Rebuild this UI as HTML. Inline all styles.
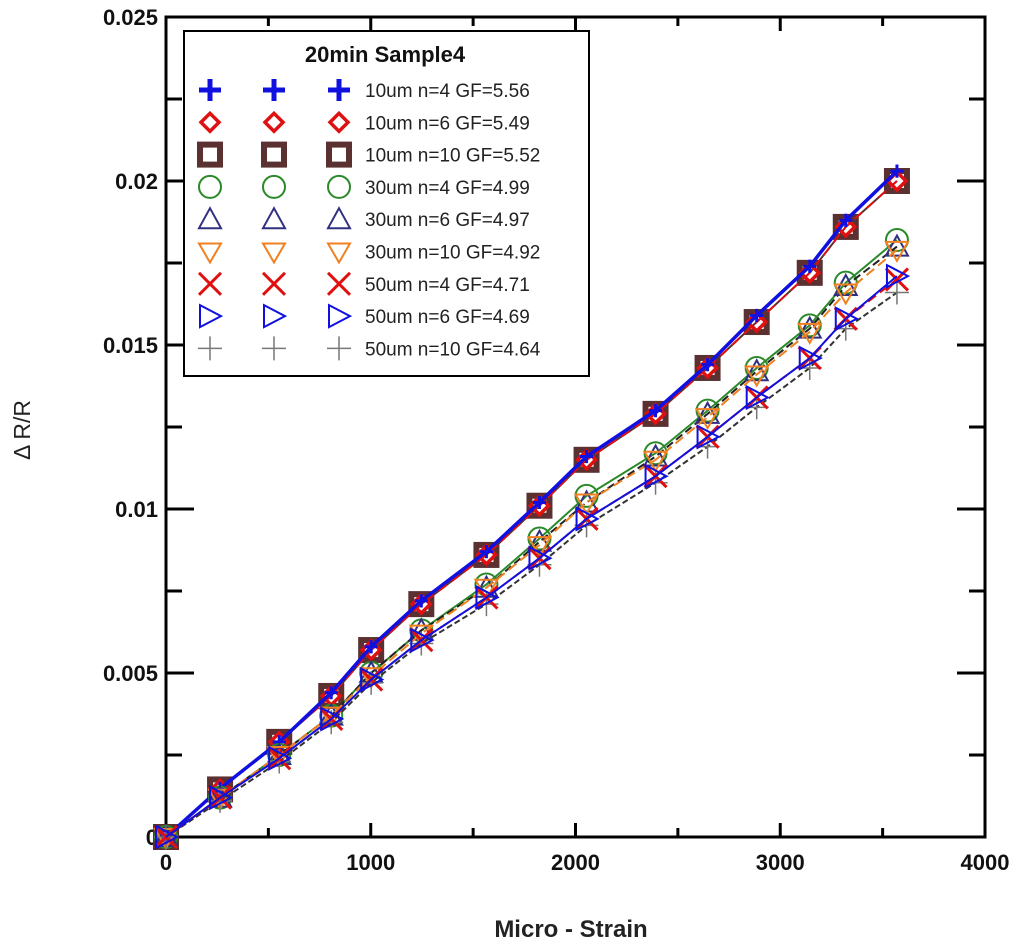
<!DOCTYPE html>
<html><head><meta charset="utf-8"><style>
body{margin:0;background:#fff;}
svg{display:block;font-family:"Liberation Sans",Arial,sans-serif;}
</style></head><body>
<svg id="chart" width="1024" height="947" viewBox="0 0 1024 947">
<g id="axes"></g>
<g id="series"></g>
<g id="legend"></g>
<text x="30" y="430" transform="rotate(-90 30 430)" text-anchor="middle" font-size="23" fill="#222">Δ R/R</text>
<text x="571" y="937" text-anchor="middle" font-size="24" font-weight="bold" fill="#222">Micro - Strain</text>
</svg>
<script>
const strain = [0,264,553,807,1002,1247,1565,1824,2054,2391,2645,2885,3144,3320,3570];
const s10n4  = [0,.00148,.0029,.0044,.0058,.0072,.0087,.0102,.0116,.0130,.0144,.0159,.0174,.0188,.0203];
const s10n6  = [0,.00145,.0029,.0043,.0057,.0071,.0086,.0101,.0115,.0129,.0143,.0157,.0172,.0186,.0200];
const s10n10 = [0,.00145,.0029,.0043,.0057,.0071,.0086,.0101,.0115,.0129,.0143,.0157,.0172,.0186,.0200];
const s30n4  = [0,.0012,.0025,.0037,.0050,.0063,.0077,.0091,.0104,.0117,.0130,.0143,.0156,.0169,.0182];
const s30n6  = [0,.0012,.0025,.0037,.0050,.0063,.0076,.0090,.0102,.0116,.0129,.0142,.0155,.0168,.0180];
const s30n10 = [0,.0012,.0025,.0037,.0049,.0062,.0076,.0089,.0102,.0115,.0128,.0141,.0154,.0166,.0179];
const s50n4  = [0,.0012,.0024,.0036,.0048,.0060,.0073,.0085,.0097,.0110,.0122,.0134,.0146,.0158,.0170];
const s50n6  = [0,.0012,.0024,.0036,.0048,.0060,.0073,.0085,.0097,.0110,.0122,.0134,.0146,.0158,.0171];
const s50n10 = [0,.0011,.0023,.0035,.0047,.0059,.0071,.0083,.0095,.0108,.0119,.0131,.0143,.0155,.0166];
const xTicks = [0,1000,2000,3000,4000];
const yTicks = [0,0.005,0.01,0.015,0.02,0.025];
const yTickLabels = ["0","0.005","0.01","0.015","0.02","0.025"];
const legendLabels = ["10um n=4 GF=5.56","10um n=6 GF=5.49","10um n=10 GF=5.52","30um n=4 GF=4.99","30um n=6 GF=4.97","30um n=10 GF=4.92","50um n=4 GF=4.71","50um n=6 GF=4.69","50um n=10 GF=4.64"];

const NS="http://www.w3.org/2000/svg";
const L=166,R=985,T=17,B=837;
const X=v=>L+v/4000*(R-L);
const Y=v=>B-v/0.025*(B-T);
function el(tag,attrs,parent){const e=document.createElementNS(NS,tag);for(const k in attrs)e.setAttribute(k,attrs[k]);parent.appendChild(e);return e;}
const axes=document.getElementById('axes');
let fr=el('rect',{x:L,y:T,width:R-L,height:B-T,fill:'none',stroke:'#000','stroke-width':3},axes);


xTicks.forEach((v,i)=>{
  const t=el('text',{x:X(v),y:B+33,'text-anchor':'middle','font-size':22,'font-weight':'bold',fill:'#111'},axes);t.textContent=v;
  
  
  if(i<xTicks.length-1){
    const m=v+500;
    [[v,14],[m,9]].forEach(([tv,len])=>{
      if(tv===0)return;
      el('line',{x1:X(tv),x2:X(tv),y1:B,y2:B-len,stroke:'#000','stroke-width':3},axes);
      el('line',{x1:X(tv),x2:X(tv),y1:T,y2:T+len,stroke:'#000','stroke-width':3},axes);
    });
  }
});
yTicks.forEach((v,i)=>{
  const t=el('text',{x:L-8,y:Y(v)+8,'text-anchor':'end','font-size':22,'font-weight':'bold',fill:'#111'},axes);t.textContent=yTickLabels[i];
  
  
  if(i<yTicks.length-1){
    [[v,28],[v+0.0025,16]].forEach(([tv,len])=>{
      if(tv===0)return;
      el('line',{x1:L,x2:L+len,y1:Y(tv),y2:Y(tv),stroke:'#000','stroke-width':3},axes);
      el('line',{x1:R,x2:R-len,y1:Y(tv),y2:Y(tv),stroke:'#000','stroke-width':3},axes);
    });
  }
});

function marker(type,cx,cy,color,g,s){
  s=s||1;
  switch(type){
    case 'plus': el('path',{d:`M${cx-11*s},${cy}H${cx+11*s}M${cx},${cy-11*s}V${cy+11*s}`,stroke:color,'stroke-width':5*s,fill:'none'},g);break;
    case 'diamond': el('path',{d:`M${cx},${cy-9}L${cx+9},${cy}L${cx},${cy+9}L${cx-9},${cy}Z`,stroke:color,'stroke-width':3.5,fill:'none'},g);break;
    case 'square': el('rect',{x:cx-10,y:cy-10,width:20,height:20,stroke:'#5a3030','stroke-width':6,fill:'none'},g);break;
    case 'circle': el('circle',{cx,cy,r:11,stroke:color,'stroke-width':2,fill:'none'},g);break;
    case 'tri': el('path',{d:`M${cx},${cy-11}L${cx+11},${cy+9}L${cx-11},${cy+9}Z`,stroke:color,'stroke-width':2,fill:'none'},g);break;
    case 'tridown': el('path',{d:`M${cx},${cy+11}L${cx+11},${cy-8}L${cx-11},${cy-8}Z`,stroke:color,'stroke-width':2,fill:'none'},g);break;
    case 'x': el('path',{d:`M${cx-11},${cy-11}L${cx+11},${cy+11}M${cx+11},${cy-11}L${cx-11},${cy+11}`,stroke:color,'stroke-width':3,fill:'none'},g);break;
    case 'tright': el('path',{d:`M${cx-10},${cy-11}L${cx+11},${cy}L${cx-10},${cy+11}Z`,stroke:color,'stroke-width':2,fill:'none'},g);break;
    case 'thin': el('path',{d:`M${cx-12},${cy}H${cx+12}M${cx},${cy-12}V${cy+12}`,stroke:color,'stroke-width':1.5,fill:'none'},g);break;
  }
}
const series=[
 {d:s10n10,m:'square',c:'#5a3030',line:'#5a3030',name:'series-10um-n10'},
 {d:s10n6,m:'diamond',c:'#e01010',line:'#e01010',dash:'10 6',name:'series-10um-n6'},
 {d:s10n4,m:'plus',c:'#1010e0',line:'#1010e0',name:'series-10um-n4'},
 {d:s30n4,m:'circle',c:'#2a8a2a',line:'#2a8a2a',name:'series-30um-n4'},
 {d:s30n6,m:'tri',c:'#303080',line:'#222',dash:'8 4',name:'series-30um-n6'},
 {d:s30n10,m:'tridown',c:'#f08020',line:'#f08020',dash:'10 5',name:'series-30um-n10'},
 {d:s50n10,m:'thin',c:'#777',line:'#333',dash:'6 3',name:'series-50um-n10'},
 {d:s50n4,m:'x',c:'#e01010',line:'#e01010',dash:'10 5',name:'series-50um-n4'},
 {d:s50n6,m:'tright',c:'#1010e0',line:'#1010e0',name:'series-50um-n6'},
];
const sg=document.getElementById('series');
series.forEach(s=>{
  const g=el('g',{},sg);
  
  
  const pts=s.d.map((v,i)=>X(strain[i])+','+Y(v)).join(' ');
  const a={points:pts,fill:'none',stroke:s.line,'stroke-width':s.m==='plus'?3.5:2};
  if(s.dash)a['stroke-dasharray']=s.dash;
  el('polyline',a,g);
  s.d.forEach((v,i)=>marker(s.m,X(strain[i]),Y(v),s.c,g,s.m==='plus'?0.6:1));
});

const lg=document.getElementById('legend');
el('rect',{x:184,y:31,width:405,height:345,fill:'#fff',stroke:'#000','stroke-width':2},lg);
const tt=el('text',{x:385,y:62,'text-anchor':'middle','font-size':22,'font-weight':'bold',fill:'#111'},lg);tt.textContent='20min Sample4';


const lorder=['plus','diamond','square','circle','tri','tridown','x','tright','thin'];
const lcol=['#1010e0','#e01010','#5a3030','#2a8a2a','#303080','#f08020','#e01010','#1010e0','#777'];
legendLabels.forEach((lab,i)=>{
  const cy=90+i*32.3;
  const g=el('g',{},lg);
  
  
  [210,274,339].forEach(cx=>marker(lorder[i],cx,cy,lcol[i],g,1));
  const t=el('text',{x:365,y:cy+7,'font-size':19,fill:'#222'},g);t.textContent=lab;
});
</script>
</body></html>
